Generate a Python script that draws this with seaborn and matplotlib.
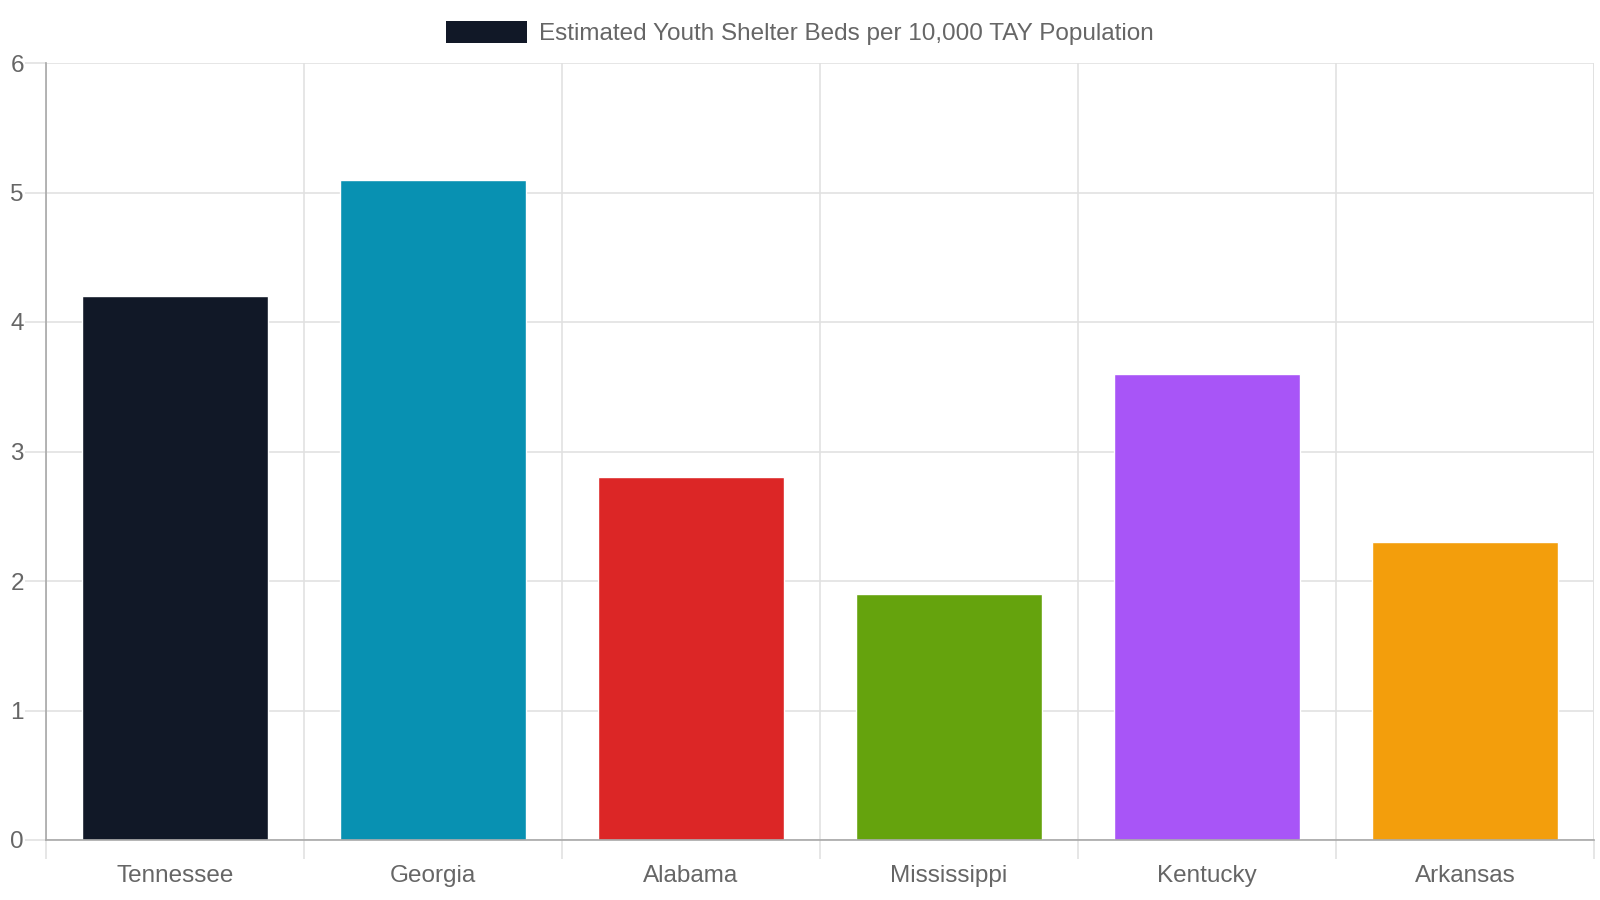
import matplotlib
matplotlib.use("Agg")
import matplotlib.pyplot as plt
import seaborn as sns
import pandas as pd
from matplotlib.patches import Patch

# chart data
states = ["Tennessee", "Georgia", "Alabama", "Mississippi", "Kentucky", "Arkansas"]
beds_per_10k = [4.2, 5.1, 2.8, 1.9, 3.6, 2.3]
bar_colors = ["#111827", "#0891b2", "#dc2626", "#65a30d", "#a855f7", "#f39e0c"]
series_label = "Estimated Youth Shelter Beds per 10,000 TAY Population"
y_ticks = [0, 1, 2, 3, 4, 5, 6]

sns.set_style("white")
plt.rcParams["font.family"] = ["Liberation Sans", "DejaVu Sans"]

text_color = "#666666"
grid_color = "#e1e1e1"
axis_color = "#a8a8a8"

df = pd.DataFrame({"state": states, "value": beds_per_10k})

fig = plt.figure(figsize=(16, 9), dpi=100)
ax = fig.add_axes([46 / 1600, 1 - 840 / 900, (1594 - 46) / 1600, (840 - 63) / 900])

sns.barplot(
    data=df,
    x="state",
    y="value",
    hue="state",
    palette=bar_colors,
    width=0.72,
    legend=False,
    saturation=1,
    ax=ax,
)

ax.set_xlim(-0.5, len(states) - 0.5)
ax.set_ylim(0, 6)
ax.set_yticks(y_ticks)
ax.set_xlabel("")
ax.set_ylabel("")

# vertical grid at category boundaries, like chart.js offset grid
ax.set_xticks([i - 0.5 for i in range(len(states) + 1)], minor=True)
ax.grid(axis="x", which="minor", color=grid_color, linewidth=1.2)
ax.grid(axis="y", which="major", color=grid_color, linewidth=1.2)
ax.set_axisbelow(True)

ax.tick_params(axis="x", which="major", bottom=True, length=0, pad=18, labelsize=17.5, labelcolor=text_color)
ax.tick_params(axis="x", which="minor", bottom=True, length=14, width=1.2, color=grid_color, direction="out")
ax.tick_params(axis="y", left=True, length=15, width=1.2, color=grid_color, pad=1, labelsize=17.5, labelcolor=text_color)

for side in ["top", "right"]:
    ax.spines[side].set_visible(False)
ax.spines["left"].set_color(axis_color)
ax.spines["bottom"].set_color(axis_color)
ax.spines["left"].set_linewidth(1.2)
ax.spines["bottom"].set_linewidth(1.2)

# right edge grid line
ax.axvline(len(states) - 0.5, color=grid_color, linewidth=1.2, zorder=0)

handle = Patch(facecolor=bar_colors[0], edgecolor="none")
fig.legend(
    [handle],
    [series_label],
    loc="center",
    bbox_to_anchor=(0.5, 1 - 33 / 900),
    frameon=False,
    fontsize=17.5,
    labelcolor=text_color,
    handlelength=3.3,
    handleheight=1.0,
    handletextpad=0.5,
)

fig.savefig("out.png", dpi=100)
